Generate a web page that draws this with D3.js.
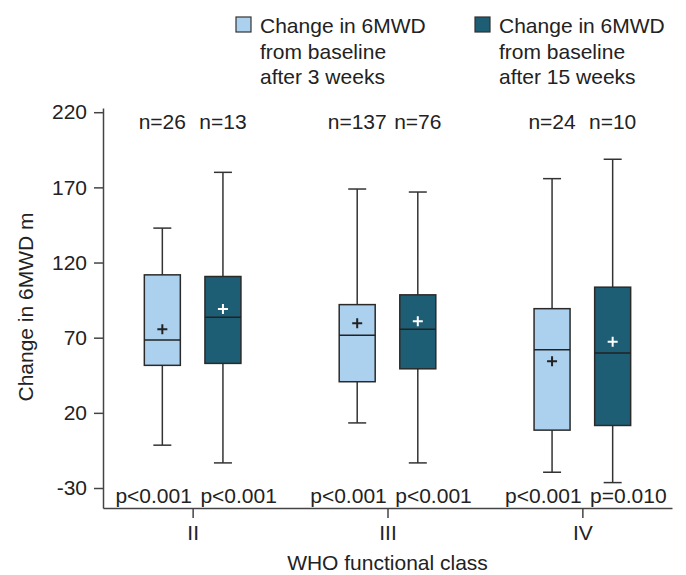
<!DOCTYPE html>
<html>
<head>
<meta charset="utf-8">
<script src="https://cdn.jsdelivr.net/npm/d3@7"></script>
<style>
  body { margin: 0; background: #fff; }
  text { font-family: "Liberation Sans", Arial, sans-serif; fill: #222; }
</style>
</head>
<body>
<div id="chart"></div>
<script>
// WHO functional classes
var classes = ["II", "III", "IV"];
var seriesNames = ["Change in 6MWD|from baseline|after 3 weeks", "Change in 6MWD|from baseline|after 15 weeks"];

// box stats per class: [3 weeks, 15 weeks]
var whiskerLow  = [[-1.5, -13.3], [13.3, -13.3], [-19.5, -26.4]];
var q1Values    = [[51.6, 52.9], [40.7, 49.3], [8.5, 11.6]];
var medians     = [[68.5, 83.6], [71.6, 75.6], [62, 59.8]];
var q3Values    = [[111.8, 110.7], [92, 98.5], [89.3, 103.6]];
var whiskerHigh = [[142.9, 180], [168.9, 166.9], [175.8, 188.7]];
var means       = [[75.6, 89.1], [79.6, 80.9], [54.3, 67.3]];
var nLabels     = [["n=26", "n=13"], ["n=137", "n=76"], ["n=24", "n=10"]];
var pLabels     = [["p<0.001", "p<0.001"], ["p<0.001", "p<0.001"], ["p<0.001", "p=0.010"]];
var yTicks = [-30, 20, 70, 120, 170, 220];

var colors = ["#acd1ee", "#1d5e75"];
var plusColors = ["#222", "#fff"];

var W = 686, H = 575;
var margin = { top: 108, right: 14, bottom: 67, left: 103 };
var width = W - margin.left - margin.right;
var height = H - margin.top - margin.bottom;

var svg = d3.select("#chart").append("svg")
  .attr("width", W)
  .attr("height", H);

var g = svg.append("g")
  .attr("transform", "translate(" + margin.left + "," + margin.top + ")");

var x = d3.scalePoint().domain(classes).range([0, width]).padding(0.46);
var y = d3.scaleLinear().domain([-43.3, 222.8]).range([height, 0]);

var boxW = 36, offset = 30.3;

// y axis
var yAxis = g.append("g")
  .call(d3.axisLeft(y).tickValues(yTicks).tickFormat(function(d) { return String(d); })
    .tickSize(9).tickPadding(7).tickSizeOuter(0));
yAxis.select(".domain").attr("stroke", "#444").attr("stroke-width", 1.5);
yAxis.selectAll(".tick line").attr("stroke", "#444").attr("stroke-width", 1.5);
yAxis.selectAll(".tick text").style("font-size", "21px").attr("fill", "#222");

// x axis
var xAxis = g.append("g")
  .attr("transform", "translate(0," + height + ")")
  .call(d3.axisBottom(x).tickSize(10).tickPadding(7).tickSizeOuter(0));
xAxis.select(".domain").attr("stroke", "#444").attr("stroke-width", 1.5);
xAxis.selectAll(".tick line").attr("stroke", "#444").attr("stroke-width", 1.5);
xAxis.selectAll(".tick text").style("font-size", "21px").attr("fill", "#222");

// build box data
var boxes = [];
classes.forEach(function(c, i) {
  [0, 1].forEach(function(s) {
    boxes.push({
      cls: c, s: s,
      lo: whiskerLow[i][s], q1: q1Values[i][s], med: medians[i][s],
      q3: q3Values[i][s], hi: whiskerHigh[i][s], mean: means[i][s],
      n: nLabels[i][s], p: pLabels[i][s]
    });
  });
});

function cx(d) { return x(d.cls) + (d.s === 0 ? -offset : offset); }

var bg = g.selectAll(".box").data(boxes).enter().append("g").attr("class", "box");

// whiskers
bg.append("line")
  .attr("x1", cx).attr("x2", cx)
  .attr("y1", function(d) { return y(d.hi); })
  .attr("y2", function(d) { return y(d.lo); })
  .attr("stroke", "#333").attr("stroke-width", 1.5);
bg.append("line")
  .attr("x1", function(d) { return cx(d) - boxW / 4; })
  .attr("x2", function(d) { return cx(d) + boxW / 4; })
  .attr("y1", function(d) { return y(d.hi); })
  .attr("y2", function(d) { return y(d.hi); })
  .attr("stroke", "#333").attr("stroke-width", 1.5);
bg.append("line")
  .attr("x1", function(d) { return cx(d) - boxW / 4; })
  .attr("x2", function(d) { return cx(d) + boxW / 4; })
  .attr("y1", function(d) { return y(d.lo); })
  .attr("y2", function(d) { return y(d.lo); })
  .attr("stroke", "#333").attr("stroke-width", 1.5);

// boxes
bg.append("rect")
  .attr("x", function(d) { return cx(d) - boxW / 2; })
  .attr("width", boxW)
  .attr("y", function(d) { return y(d.q3); })
  .attr("height", function(d) { return y(d.q1) - y(d.q3); })
  .attr("fill", function(d) { return colors[d.s]; })
  .attr("stroke", "#2a2a2a").attr("stroke-width", 1.5);

// median
bg.append("line")
  .attr("x1", function(d) { return cx(d) - boxW / 2; })
  .attr("x2", function(d) { return cx(d) + boxW / 2; })
  .attr("y1", function(d) { return y(d.med); })
  .attr("y2", function(d) { return y(d.med); })
  .attr("stroke", "#222").attr("stroke-width", 1.5);

// mean plus
bg.append("path")
  .attr("d", function(d) {
    var px = cx(d), py = y(d.mean), r = 5;
    return "M" + (px - r) + "," + py + "H" + (px + r) + "M" + px + "," + (py - r) + "V" + (py + r);
  })
  .attr("stroke", function(d) { return plusColors[d.s]; })
  .attr("stroke-width", 2);

// n labels
bg.append("text")
  .attr("x", cx)
  .attr("y", 129 - margin.top)
  .attr("text-anchor", "middle")
  .style("font-size", "21px")
  .text(function(d) { return d.n; });

// p labels
bg.append("text")
  .attr("x", function(d) { return x(d.cls) + (d.s === 0 ? -39 : 46); })
  .attr("y", 502.5 - margin.top)
  .attr("text-anchor", "middle")
  .style("font-size", "21px")
  .text(function(d) { return d.p; });

// axis titles
svg.append("text")
  .attr("transform", "translate(33,307) rotate(-90)")
  .attr("text-anchor", "middle")
  .style("font-size", "21px")
  .text("Change in 6MWD m");

svg.append("text")
  .attr("x", margin.left + x("III"))
  .attr("y", 570)
  .attr("text-anchor", "middle")
  .style("font-size", "21px")
  .text("WHO functional class");

// legend
var legendX = [236, 475];
var leg = svg.selectAll(".legend").data(seriesNames).enter().append("g")
  .attr("class", "legend")
  .attr("transform", function(d, i) { return "translate(" + legendX[i] + ",0)"; });
leg.append("rect")
  .attr("x", 0).attr("y", 17).attr("width", 15).attr("height", 15)
  .attr("fill", function(d, i) { return colors[i]; })
  .attr("stroke", "#333").attr("stroke-width", 1.2);
leg.each(function(d) {
  var t = d3.select(this).append("text").style("font-size", "21px");
  d.split("|").forEach(function(line, k) {
    t.append("tspan").attr("x", 24).attr("y", 33 + k * 25.5).text(line);
  });
});
</script>
</body>
</html>
